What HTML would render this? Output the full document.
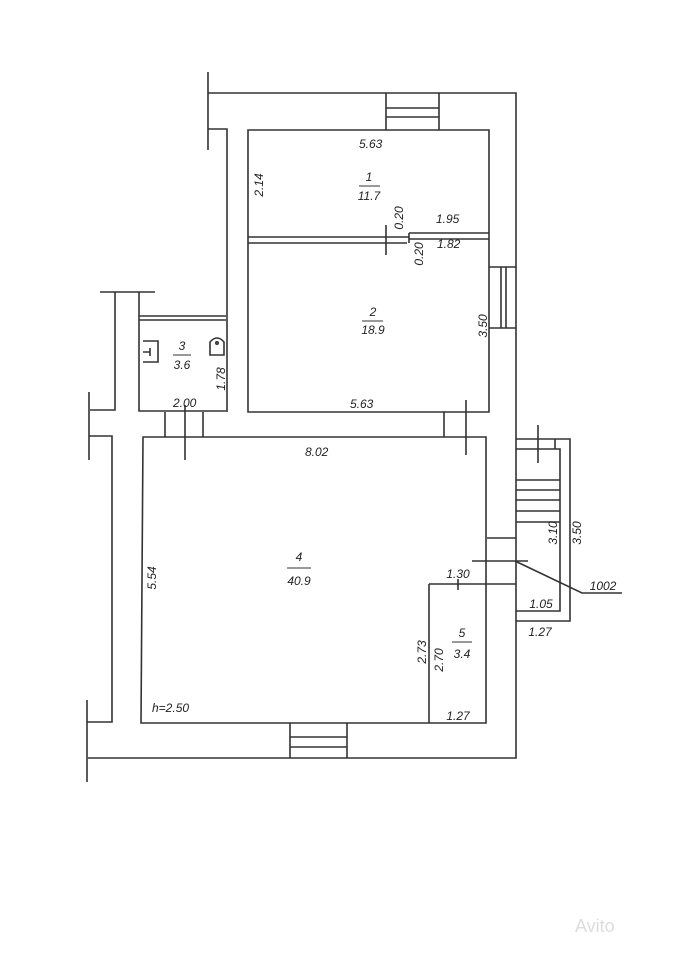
<!DOCTYPE html>
<html><head><meta charset="utf-8"><style>
html,body{margin:0;padding:0;background:#fff;}
svg{display:block}
text{font-family:"Liberation Sans",sans-serif;font-style:italic;font-size:12px;fill:#222}
</style></head><body>
<svg width="678" height="960" viewBox="0 0 678 960" xmlns="http://www.w3.org/2000/svg">
<g stroke="#333" stroke-width="1.6" fill="none">
<path d="M208 72V150M208 93H516V758H88"/>
<path d="M208 129H227V412"/>
<path d="M386 93V130M439 93V130M386 108H439M386 117H439"/>
<path d="M248 130H489V412H248Z"/>
<path d="M248 237H407M248 243H407M407 237H409M409 233V243M409 233H489M409 239H489"/>
<path d="M386 225V255"/>
<path d="M489 267H516M489 328H516M501 267V328M506 267V328"/>
<path d="M139 292V411H226M139 316H226M139 320H226M100 292H155M115 292V410H90M89 392V460"/>
<path d="M143 341H158V362H143M150 352H143M150 348V356"/>
<path d="M210 355V342Q217 334 224 342V355Z"/>
<circle cx="217" cy="343" r="1.2"/>
<path d="M165 412V437M203 412V437M185 405V460"/>
<path d="M444 412V437M466 400V455"/>
<path d="M143 437H486V723H141Z"/>
<path d="M89 436H112V722H87M87 700V782"/>
<path d="M290 723V758M347 723V758M290 737H347M290 747H347"/>
<path d="M429 584H516M429 584V723"/>
<path d="M458 579V590"/>
<path d="M516 439H570V621H516M516 449H560V611H516M555 439V449"/>
<path d="M516 480H560M516 490H560M516 500H560M516 511H560M516 522H560"/>
<path d="M538 425V463M487 538H516"/>
<path d="M472 561H528M515 561L582 593H622"/>
</g>
<text x="359" y="148">5.63</text>
<text transform="translate(263 185) rotate(-90)" text-anchor="middle">2.14</text>
<text x="369" y="181" text-anchor="middle">1</text>
<line x1="359" y1="186" x2="380" y2="186" stroke="#333"/>
<text x="369" y="200" text-anchor="middle">11.7</text>
<text transform="translate(403 218) rotate(-90)" text-anchor="middle">0.20</text>
<text x="436" y="223">1.95</text>
<text transform="translate(423 254) rotate(-90)" text-anchor="middle">0.20</text>
<text x="437" y="248">1.82</text>
<text x="373" y="316" text-anchor="middle">2</text>
<line x1="362" y1="321" x2="383" y2="321" stroke="#333"/>
<text x="373" y="334" text-anchor="middle">18.9</text>
<text transform="translate(487 326) rotate(-90)" text-anchor="middle">3.50</text>
<text x="350" y="408">5.63</text>
<text x="182" y="350" text-anchor="middle">3</text>
<line x1="173" y1="355" x2="191" y2="355" stroke="#333"/>
<text x="182" y="369" text-anchor="middle">3.6</text>
<text transform="translate(225 379) rotate(-90)" text-anchor="middle">1.78</text>
<text x="173" y="407">2.00</text>
<text x="305" y="456">8.02</text>
<text transform="translate(156 578) rotate(-90)" text-anchor="middle">5.54</text>
<text x="299" y="561" text-anchor="middle">4</text>
<line x1="287" y1="568" x2="311" y2="568" stroke="#333"/>
<text x="299" y="585" text-anchor="middle">40.9</text>
<text x="458" y="578" text-anchor="middle">1.30</text>
<text transform="translate(426 652) rotate(-90)" text-anchor="middle">2.73</text>
<text transform="translate(443 660) rotate(-90)" text-anchor="middle">2.70</text>
<text x="462" y="637" text-anchor="middle">5</text>
<line x1="452" y1="642" x2="472" y2="642" stroke="#333"/>
<text x="462" y="658" text-anchor="middle">3.4</text>
<text x="152" y="712">h=2.50</text>
<text x="458" y="720" text-anchor="middle">1.27</text>
<text transform="translate(557 533) rotate(-90)" text-anchor="middle">3.10</text>
<text transform="translate(581 533) rotate(-90)" text-anchor="middle">3.50</text>
<text x="541" y="608" text-anchor="middle">1.05</text>
<text x="540" y="636" text-anchor="middle">1.27</text>
<text x="603" y="590" text-anchor="middle">1002</text>
<text x="575" y="932" style="font-style:normal;font-size:18px;fill:#ddd">Avito</text>
</svg>
</body></html>
